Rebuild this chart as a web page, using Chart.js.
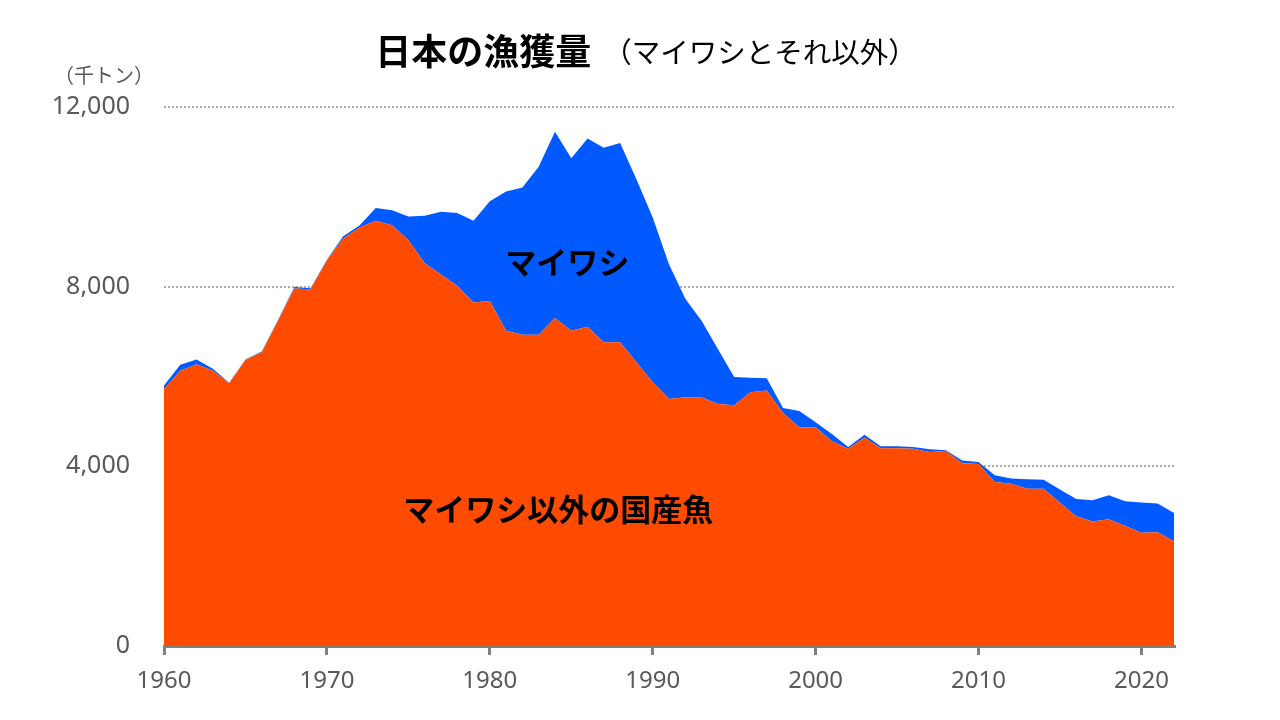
<!DOCTYPE html>
<html lang="ja">
<head>
<meta charset="utf-8">
<title>日本の漁獲量</title>
<script src="https://cdn.jsdelivr.net/npm/chart.js@4.4.1/dist/chart.umd.min.js"></script>
<style>
  html, body { margin: 0; padding: 0; background: #fff; }
  #wrap { width: 1280px; height: 720px; }
</style>
</head>
<body>
<div id="wrap"><canvas id="catchChart"></canvas></div>
<script>
// データ（千トン）
const years = [
  1960, 1961, 1962, 1963, 1964, 1965, 1966, 1967, 1968, 1969,
  1970, 1971, 1972, 1973, 1974, 1975, 1976, 1977, 1978, 1979,
  1980, 1981, 1982, 1983, 1984, 1985, 1986, 1987, 1988, 1989,
  1990, 1991, 1992, 1993, 1994, 1995, 1996, 1997, 1998, 1999,
  2000, 2001, 2002, 2003, 2004, 2005, 2006, 2007, 2008, 2009,
  2010, 2011, 2012, 2013, 2014, 2015, 2016, 2017, 2018, 2019,
  2020, 2021, 2022
];
const otherFish = [
  5720, 6130, 6270, 6130, 5850, 6370, 6540, 7240, 7960, 7940,
  8580, 9070, 9320, 9470, 9370, 9040, 8520, 8270, 8020, 7650,
  7680, 7020, 6930, 6930, 7300, 7020, 7110, 6760, 6760, 6320,
  5870, 5500, 5540, 5540, 5390, 5360, 5650, 5690, 5190, 4870,
  4870, 4560, 4390, 4640, 4400, 4400, 4390, 4320, 4340, 4070,
  4050, 3650, 3610, 3500, 3500, 3190, 2890, 2770, 2820, 2670,
  2520, 2530, 2330
];
const sardine = [
  80, 130, 110, 40, 10, 10, 15, 20, 30, 25,
  20, 50, 40, 280, 330, 520, 1060, 1400, 1620, 1820,
  2220, 3100, 3280, 3740, 4150, 3840, 4190, 4330, 4440, 4070,
  3670, 3000, 2190, 1700, 1220, 630, 320, 270, 110, 360,
  110, 160, 40, 65, 45, 45, 40, 60, 20, 60,
  45, 150, 120, 210, 200, 295, 380, 475, 535, 555,
  675, 645, 630
];
const seriesNames = ['マイワシ以外の国産魚', 'マイワシ'];
const yTicks = [0, 4000, 8000, 12000];
const xTicks = [1960, 1970, 1980, 1990, 2000, 2010, 2020];

const titleMain = '日本の漁獲量';
const titleSub = '（マイワシとそれ以外）';
const unitLabel = '（千トン）';

const JP = '"Noto Sans CJK JP", "Noto Sans", sans-serif';
const NUM = '"Noto Sans", "Open Sans", sans-serif';
const GRAY = '#595959';

const toPoints = (vals) => vals.map((v, i) => ({ x: years[i], y: v }));

// タイトルと系列名
const textPlugin = {
  id: 'textPlugin',
  afterDraw(chart) {
    const { ctx, scales: { x, y } } = chart;
    ctx.save();
    ctx.textBaseline = 'middle';
    ctx.fillStyle = '#000';

    const mainFont = 'bold 36px ' + JP;
    const subFont = '28.5px ' + JP;
    ctx.font = mainFont;
    const w1 = ctx.measureText(titleMain).width;
    ctx.font = subFont;
    const w2 = ctx.measureText(titleSub).width;
    const gap = 12;
    const start = 646 - (w1 + gap + w2) / 2;
    ctx.textAlign = 'left';
    ctx.font = mainFont;
    ctx.fillText(titleMain, start, 51);
    ctx.font = subFont;
    ctx.fillText(titleSub, start + w1 + gap, 52);

    ctx.fillStyle = GRAY;
    ctx.font = '20px ' + JP;
    ctx.fillText(unitLabel, 54, 75);

    // 系列ラベル
    ctx.fillStyle = '#000';
    ctx.textAlign = 'center';
    ctx.font = 'bold 31px ' + JP;
    ctx.fillText(seriesNames[1], x.getPixelForValue(1984.75), y.getPixelForValue(8550));
    ctx.fillText(seriesNames[0], x.getPixelForValue(1984.2), y.getPixelForValue(3050));
    ctx.restore();
  }
};

new Chart(document.getElementById('catchChart'), {
  type: 'line',
  data: {
    datasets: [
      {
        label: seriesNames[0],
        data: toPoints(otherFish),
        backgroundColor: '#FF4B00',
        borderWidth: 0,
        fill: 'origin',
        pointRadius: 0,
        tension: 0
      },
      {
        label: seriesNames[1],
        data: toPoints(sardine),
        backgroundColor: '#005AFF',
        borderWidth: 0,
        fill: '-1',
        pointRadius: 0,
        tension: 0
      }
    ]
  },
  options: {
    responsive: true,
    maintainAspectRatio: false,
    animation: false,
    layout: { padding: { top: 107, right: 106, left: 0, bottom: 0 } },
    plugins: {
      legend: { display: false },
      tooltip: { enabled: false }
    },
    scales: {
      x: {
        type: 'linear',
        min: 1960,
        max: 2022,
        afterFit: (s) => { s.height = 74; },
        afterBuildTicks: (s) => { s.ticks = xTicks.map(v => ({ value: v })); },
        grid: {
          drawOnChartArea: false,
          drawTicks: true,
          tickLength: 9,
          color: '#808080',
          lineWidth: 3
        },
        border: { display: true, color: '#808080', width: 3 },
        ticks: {
          padding: 12,
          color: GRAY,
          font: { family: NUM, size: 24 },
          callback: (v) => String(v)
        }
      },
      y: {
        stacked: true,
        min: 0,
        max: 12000,
        afterFit: (s) => { s.width = 164; },
        afterBuildTicks: (s) => { s.ticks = yTicks.map(v => ({ value: v })); },
        grid: {
          drawTicks: false,
          color: '#ababab',
          lineWidth: 2
        },
        border: { display: false, dash: [2, 2] },
        ticks: {
          padding: 34,
          color: GRAY,
          font: { family: NUM, size: 25 },
          callback: (v) => v.toLocaleString('en-US')
        }
      }
    }
  },
  plugins: [textPlugin]
});
</script>
</body>
</html>
